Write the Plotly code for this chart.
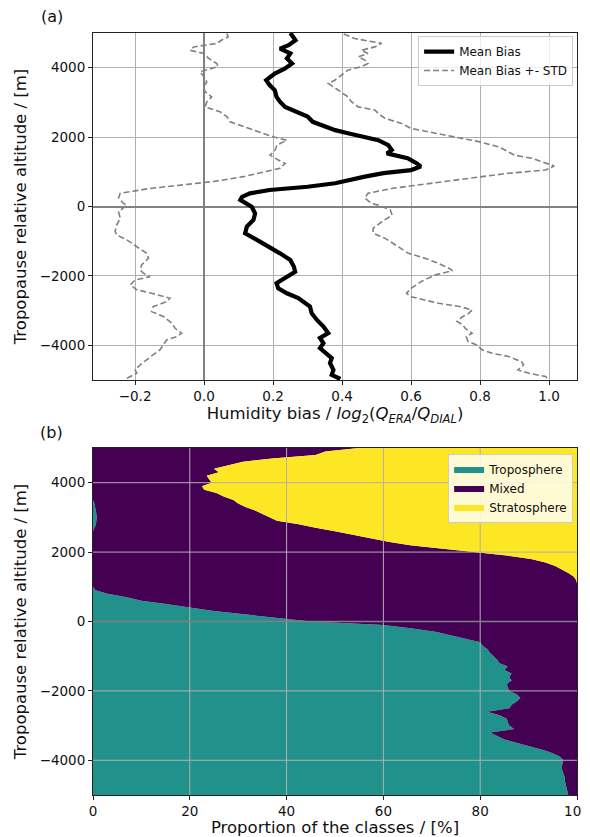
import plotly.graph_objects as go
from plotly.subplots import make_subplots

# (a) humidity bias profiles: altitude [m] / value
mean_alt = [5000, 4890, 4790, 4650, 4550, 4410, 4265, 4120, 3980, 3830, 3640, 3500, 3350, 3160, 3020,
            2870, 2730, 2590, 2440, 2300, 2200, 2110, 2010, 1910, 1770, 1630, 1530, 1390, 1240, 1150,
            1050, 960, 860, 760, 670, 570, 475, 380, 280, 190, 90, -5, -200, -390, -580, -770, -960,
            -1160, -1350, -1540, -1730, -1880, -2020, -2210, -2360, -2500, -2640, -2740, -2880, -3080,
            -3270, -3460, -3650, -3790, -3940, -4080, -4230, -4370, -4510, -4710, -4850, -4970]
mean_val = [0.25, 0.26, 0.265, 0.245, 0.22, 0.25, 0.24, 0.255, 0.235, 0.205, 0.18, 0.19, 0.205, 0.21, 0.22,
            0.235, 0.27, 0.30, 0.315, 0.355, 0.38, 0.417, 0.466, 0.505, 0.534, 0.544, 0.53, 0.59, 0.617, 0.628,
            0.60, 0.52, 0.466, 0.417, 0.38, 0.30, 0.19, 0.133, 0.11, 0.105, 0.12, 0.138, 0.148, 0.143, 0.124,
            0.119, 0.153, 0.19, 0.22, 0.25, 0.26, 0.264, 0.24, 0.21, 0.215, 0.24, 0.273, 0.288, 0.307, 0.312,
            0.327, 0.346, 0.36, 0.336, 0.346, 0.336, 0.355, 0.37, 0.365, 0.375, 0.37, 0.395]

up_alt = [4970, 4840, 4700, 4600, 4500, 4410, 4310, 4220, 4120, 4030, 3930, 3790, 3640, 3550, 3450, 3350,
          3160, 3020, 2870, 2780, 2680, 2540, 2390, 2250, 2110, 2010, 1870, 1720, 1580, 1480, 1390, 1240,
          1170, 1050, 960, 810, 670, 520, 380, 240, 90, 40, -100, -250, -440, -630, -770, -920, -1160, -1350,
          -1490, -1640, -1780, -1850, -1970, -2160, -2360, -2500, -2600, -2690, -2790, -2880, -2980, -3080,
          -3170, -3310, -3410, -3510, -3650, -3750, -3890, -3990, -4130, -4230, -4320, -4470, -4560, -4710,
          -4800, -4900, -5000]
up_val = [0.405, 0.437, 0.515, 0.495, 0.456, 0.475, 0.447, 0.466, 0.475, 0.456, 0.417, 0.398, 0.379, 0.36,
          0.375, 0.39, 0.417, 0.427, 0.447, 0.495, 0.505, 0.524, 0.573, 0.60, 0.67, 0.72, 0.796, 0.854, 0.883,
          0.90, 0.95, 0.999, 1.015, 0.99, 0.883, 0.767, 0.66, 0.544, 0.475, 0.466, 0.485, 0.505, 0.54, 0.545,
          0.515, 0.49, 0.49, 0.525, 0.563, 0.592, 0.64, 0.68, 0.71, 0.72, 0.67, 0.63, 0.60, 0.587, 0.60, 0.64,
          0.68, 0.74, 0.777, 0.767, 0.75, 0.733, 0.75, 0.757, 0.777, 0.76, 0.765, 0.79, 0.806, 0.835, 0.883,
          0.92, 0.926, 0.91, 0.94, 0.99, 1.0]

lo_alt = [4980, 4890, 4790, 4700, 4600, 4500, 4410, 4270, 4120, 4030, 3880, 3740, 3590, 3450, 3310, 3160,
          3020, 2870, 2730, 2590, 2440, 2300, 2150, 2010, 1910, 1770, 1630, 1480, 1340, 1240, 1100, 960, 860,
          720, 620, 520, 380, 240, 90, 40, -150, -340, -530, -720, -820, -960, -1160, -1350, -1490, -1680,
          -1830, -1920, -2020, -2120, -2260, -2400, -2500, -2640, -2740, -2880, -3030, -3170, -3360, -3510,
          -3650, -3750, -3840, -3990, -4130, -4270, -4420, -4560, -4710, -4800, -4950]
lo_val = [0.066, 0.07, 0.05, 0.037, -0.03, -0.04, 0.0, 0.013, 0.037, 0.04, -0.012, 0.0, 0.008, -0.002, 0.003,
          0.022, 0.008, 0.003, 0.046, 0.066, 0.075, 0.114, 0.162, 0.20, 0.24, 0.211, 0.206, 0.191, 0.215, 0.235,
          0.22, 0.162, 0.114, 0.027, -0.06, -0.157, -0.243, -0.248, -0.234, -0.224, -0.248, -0.243, -0.253,
          -0.258, -0.253, -0.224, -0.195, -0.166, -0.161, -0.181, -0.185, -0.176, -0.157, -0.2, -0.214, -0.195,
          -0.152, -0.099, -0.108, -0.147, -0.152, -0.118, -0.094, -0.084, -0.065, -0.079, -0.108, -0.118,
          -0.128, -0.147, -0.166, -0.185, -0.2, -0.195, -0.224]

# (b) class proportions [%] every 100 m from -5000 to 5000
class_alt = list(range(-5000, 5001, 100))
tropo = [98.2, 98, 97.8, 97.7, 97.5, 97.5, 97.2, 97, 96.8, 97, 97.2, 96.5, 95, 93, 90.3, 87.5, 85, 83.5, 82,
         87, 86, 85.7, 85.5, 84, 81.4, 86, 86.5, 87.6, 88.3, 87.5, 86, 85.7, 85.5, 86.5, 86, 86.5, 85, 85.7,
         84, 83.5, 82.7, 82, 81.5, 80.5, 80, 77, 74, 71, 66, 60, 45, 38, 31, 25, 20, 15.5, 10, 7, 3, 0.5,
         0, 0, 0, 0, 0, 0, 0, 0, 0, 0, 0, 0, 0, 0, 0, 0, 0,
         0.3, 0.6, 0.7, 0.8, 0.7, 0.6, 0.5, 0.3,
         0, 0, 0, 0, 0, 0, 0, 0, 0, 0, 0, 0, 0, 0, 0, 0]
strato = [0] * 62 + [0.2, 0.7, 1.8, 3.2, 4.5, 6.5, 9.5, 14.5, 21.5, 28.5, 34.5, 39, 42.5, 46, 50, 54, 57.5,
                     62, 63.5, 65, 66.5, 68.5, 70, 71, 73, 74.5, 77, 77.5, 75.5, 76, 76.5, 74, 75, 72, 69,
                     63, 54, 52, 45]
mixed = [100 - t - s for t, s in zip(tropo, strato)]

x1_ticks = [-0.2, 0.0, 0.2, 0.4, 0.6, 0.8, 1.0]
x2_ticks = [0, 20, 40, 60, 80, 100]
y_ticks = [-4000, -2000, 0, 2000, 4000]

fig = make_subplots(rows=2, cols=1)

fig.add_trace(go.Scatter(x=mean_val, y=mean_alt, mode='lines', name='Mean Bias',
                         line=dict(color='black', width=4.2), legend='legend'), row=1, col=1)
fig.add_trace(go.Scatter(x=lo_val, y=lo_alt, mode='lines', name='Mean Bias +- STD',
                         line=dict(color='#808080', width=1.6, dash='6px,3px'), legend='legend'),
              row=1, col=1)
fig.add_trace(go.Scatter(x=up_val, y=up_alt, mode='lines', showlegend=False,
                         line=dict(color='#808080', width=1.6, dash='6px,3px')), row=1, col=1)

for name, vals, col in [('Troposphere', tropo, '#21918c'),
                        ('Mixed', mixed, '#440154'),
                        ('Stratosphere', strato, '#fde725')]:
    fig.add_trace(go.Scatter(x=vals, y=class_alt, name=name, mode='lines', stackgroup='cls',
                             orientation='h', line=dict(width=0, color=col), fillcolor=col,
                             legend='legend2'), row=2, col=1)

# grid of panel (b) is drawn on top of the filled areas, like in matplotlib
for v in x2_ticks[1:-1]:
    fig.add_shape(type='line', xref='x2', yref='y2 domain', x0=v, x1=v, y0=0, y1=1,
                  line=dict(color='#b0b0b0', width=1), layer='above')
for v in y_ticks:
    fig.add_shape(type='line', xref='x2 domain', yref='y2', x0=0, x1=1, y0=v, y1=v,
                  line=dict(color='#808080' if v == 0 else '#b0b0b0', width=1.5 if v == 0 else 1),
                  layer='above')

font = 'DejaVu Sans'
title_font = dict(family=font, size=16.5, color='#111')
ax = dict(showline=True, mirror=True, linecolor='#222', linewidth=1, ticks='outside', ticklen=4,
          tickcolor='#222', showgrid=True, gridcolor='#b0b0b0', gridwidth=1, automargin=False,
          tickfont=dict(family=font, size=13.5, color='#111'))

fig.update_xaxes(**ax)
fig.update_yaxes(**ax)
fig.update_xaxes(range=[-0.322, 1.081], tickvals=x1_ticks, tickformat='.1f',
                 zeroline=True, zerolinecolor='#808080', zerolinewidth=1.5,
                 title=dict(text='Humidity bias / <i>log</i><sub>2</sub>(<i>Q</i><sub><i>ERA</i></sub>/<i>Q</i><sub><i>DIAL</i></sub>)',
                            font=title_font, standoff=2),
                 row=1, col=1)
fig.update_yaxes(range=[-5000, 5000], tickvals=y_ticks, domain=[0.5446, 1],
                 zeroline=True, zerolinecolor='#808080', zerolinewidth=1.5,
                 title=dict(text='Tropopause relative altitude / [m]', font=title_font, standoff=8),
                 row=1, col=1)
fig.update_xaxes(range=[0, 100], tickvals=x2_ticks, zeroline=False, showgrid=False,
                 title=dict(text='Proportion of the classes / [%]', font=title_font, standoff=2),
                 row=2, col=1)
fig.update_yaxes(range=[-5000, 5000], tickvals=y_ticks, domain=[0, 0.4554],
                 zeroline=False, showgrid=False,
                 title=dict(text='Tropopause relative altitude / [m]', font=title_font, standoff=8),
                 row=2, col=1)

leg = dict(bgcolor='rgba(255,255,255,0.8)', bordercolor='#cccccc', borderwidth=1,
           xanchor='right', yanchor='top', traceorder='normal',
           font=dict(family=font, size=12, color='#111'))
# page body has an 8px margin, so the margins are shifted to keep the plot areas in place
fig.update_layout(
    width=590, height=829,
    margin=dict(l=85, r=21, t=25, b=42),
    plot_bgcolor='white', paper_bgcolor='white',
    legend=dict(x=0.992, y=0.996, tracegroupgap=0, **leg),
    legend2=dict(x=0.992, y=0.448, **leg),
    annotations=[
        dict(text='(a)', x=-0.085, y=1.021, xref='paper', yref='paper', showarrow=False,
             xanchor='center', yanchor='middle', font=dict(family=font, size=16, color='#111')),
        dict(text='(b)', x=-0.085, y=0.476, xref='paper', yref='paper', showarrow=False,
             xanchor='center', yanchor='middle', font=dict(family=font, size=16, color='#111')),
    ],
)

fig.write_html("out.html")
